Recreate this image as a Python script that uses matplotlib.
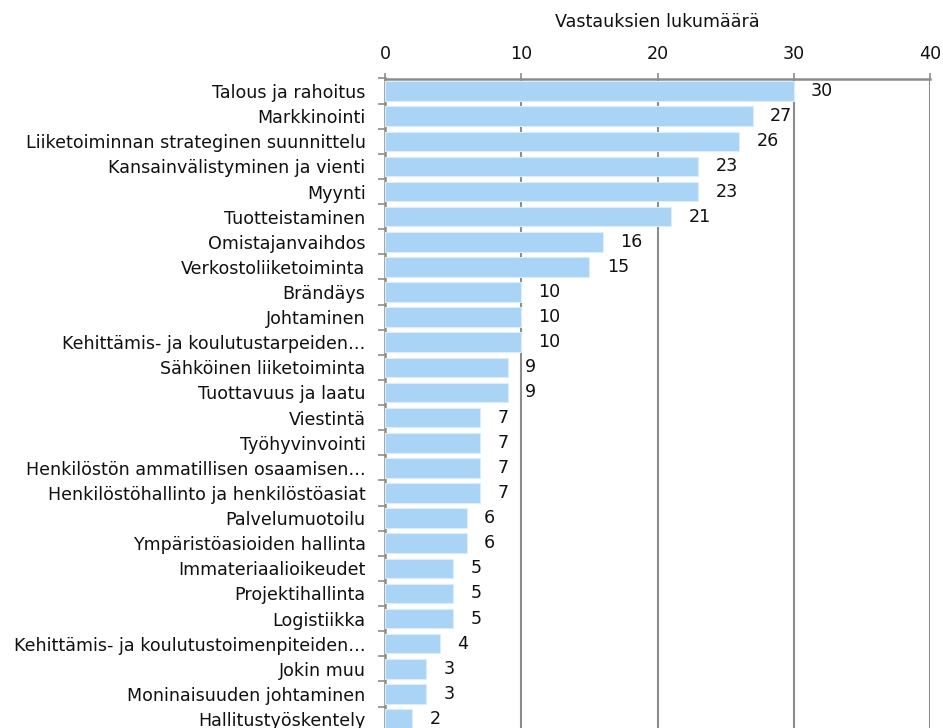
import matplotlib.pyplot as plt
import numpy as np

# Aiheet ja vastausten määrät
topics = [
    'Talous ja rahoitus',
    'Markkinointi',
    'Liiketoiminnan strateginen suunnittelu',
    'Kansainvälistyminen ja vienti',
    'Myynti',
    'Tuotteistaminen',
    'Omistajanvaihdos',
    'Verkostoliiketoiminta',
    'Brändäys',
    'Johtaminen',
    'Kehittämis- ja koulutustarpeiden…',
    'Sähköinen liiketoiminta',
    'Tuottavuus ja laatu',
    'Viestintä',
    'Työhyvinvointi',
    'Henkilöstön ammatillisen osaamisen…',
    'Henkilöstöhallinto ja henkilöstöasiat',
    'Palvelumuotoilu',
    'Ympäristöasioiden hallinta',
    'Immateriaalioikeudet',
    'Projektihallinta',
    'Logistiikka',
    'Kehittämis- ja koulutustoimenpiteiden…',
    'Jokin muu',
    'Moninaisuuden johtaminen',
    'Hallitustyöskentely',
]
counts = [30, 27, 26, 23, 23, 21, 16, 15, 10, 10, 10, 9, 9, 7, 7, 7, 7, 6, 6, 5, 5, 5, 4, 3, 3, 2]
x_ticks = [0, 10, 20, 30, 40]

grid_col = '#8c8c8c'
bar_col = '#a9d4f5'
text_col = '#111111'
fs = 12.6

fig = plt.figure(figsize=(9.43, 7.28), dpi=100)
W, H = 943, 728
left, right, top = 385, 930, 78.5
row_h = 25.12
bottom = top + row_h * len(topics)
ax = fig.add_axes([left / W, 1 - bottom / H, (right - left) / W, (bottom - top) / H])

y = np.arange(len(topics))
ax.barh(y, counts, height=0.78, color=bar_col, edgecolor='#dcecf9', linewidth=0.8, zorder=3)

for yi, c in zip(y, counts):
    ax.annotate(str(c), (c, yi), xytext=(12.5, 0), textcoords='offset points',
                ha='left', va='center', fontsize=fs, color=text_col, zorder=4)

ax.set_xlim(0, 40)
ax.set_ylim(len(topics) - 0.5, -0.5)
ax.set_xticks(x_ticks)
ax.xaxis.tick_top()
ax.xaxis.set_label_position('top')
ax.set_xlabel('Vastauksien lukumäärä', fontsize=fs, color=text_col, labelpad=13)
ax.tick_params(axis='x', length=4, width=1.2, color=grid_col, labelsize=fs,
               labelcolor=text_col, pad=7)

ax.set_yticks(y)
ax.set_yticklabels(topics)
ax.set_yticks(np.arange(len(topics) + 1) - 0.5, minor=True)
ax.tick_params(axis='y', which='major', length=0, pad=14, labelsize=fs, labelcolor=text_col)
ax.tick_params(axis='y', which='minor', length=5, width=1.2, color=grid_col)

ax.grid(axis='x', color=grid_col, linewidth=1.5, zorder=1)
ax.set_axisbelow(True)
for side in ['left', 'top']:
    ax.spines[side].set_color(grid_col)
    ax.spines[side].set_linewidth(1.8)
ax.spines['right'].set_visible(False)
ax.spines['bottom'].set_visible(False)

fig.savefig('out.png', dpi=100)
